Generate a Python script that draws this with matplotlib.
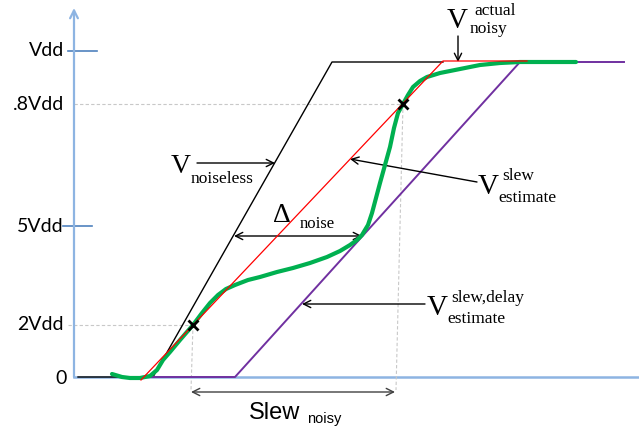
import matplotlib.pyplot as plt

# time axis runs right from the origin, voltage axis up from the baseline
# (both in drawing units; the full swing is 315)
SWING = 315

# y-axis reference levels and their labels
level_vals = [0, 52, 151, 273, 326]
level_labels = ["0", "2Vdd", "5Vdd", ".8Vdd", "Vdd"]

# ideal ramp without noise
noiseless_t = [4, 79, 258, 369]
noiseless_v = [0, 0, SWING, SWING]

# straight-line slew estimate through the 20% / 80% crossings
slew_est_t = [67, 369, 453]
slew_est_v = [-3, 316, 316]

# slew + delay estimate, shifted so it touches the noisy waveform
delay_est_t = [73, 161, 446, 550]
delay_est_v = [0, 0, SWING, SWING]

# actual noisy waveform
noisy_t = [38, 48, 56, 66, 76, 83, 89, 96, 106, 119, 128, 136, 144, 152, 161,
           174, 186, 203, 219, 236, 253, 266, 276, 283, 288, 294, 298, 302,
           306, 311, 316, 320, 324, 329, 334, 339, 346, 353, 366, 376, 386,
           396, 406, 426, 446, 502]
noisy_v = [3, 0, -1, -1, 1, 7, 17, 25, 37, 52, 64, 74, 82, 88, 92,
           97, 100, 105, 109, 114, 120, 126, 132, 137, 142, 152, 164, 179,
           194, 212, 230, 249, 264, 273, 282, 290, 296, 300, 304, 306, 308,
           310, 312, 314, 315, 315]

# 20% and 80% crossing points
cross_t = [119, 329]
cross_v = [52, 273]

AXIS_BLUE = "#8DB4E2"
TICK_BLUE = "#4F81BD"
GRID_GREY = "#C8C8C8"
SERIF = "Liberation Serif"

fig = plt.figure(figsize=(6.39, 4.33), dpi=100)
ax = fig.add_axes([0, 0, 1, 1])
ax.set_xlim(-74, 565)
ax.set_ylim(-56, 377)
ax.axis("off")

# axes
ax.plot([0, 565], [0, 0], color=AXIS_BLUE, lw=1.8, zorder=1)
ax.annotate("", xy=(0, 369), xytext=(0, 0),
            arrowprops=dict(arrowstyle="->", color=AXIS_BLUE, lw=1.6,
                            shrinkA=0, shrinkB=0, mutation_scale=14))
ax.plot([-6, 23], [326, 326], color=TICK_BLUE, lw=1.2)
ax.plot([-11, 18], [151, 151], color=TICK_BLUE, lw=1.2)
for val, lab in zip(level_vals, level_labels):
    x = -7 if lab == "0" else -10
    ax.text(x, val - (2 if lab == "0" else 0), lab, ha="right", va="center",
            fontsize=14, family="Lato", color="black")

# dashed guides at the crossings
ax.plot([-6, cross_t[0]], [cross_v[0]] * 2, color=GRID_GREY, lw=0.8,
        ls=(0, (3, 2)))
ax.plot([0, cross_t[1]], [cross_v[1]] * 2, color=GRID_GREY, lw=0.8,
        ls=(0, (3, 2)))
ax.plot([cross_t[0], 117], [cross_v[0], -13], color=GRID_GREY, lw=0.8,
        ls=(0, (3, 2)))
ax.plot([cross_t[1], 322], [cross_v[1], -13], color=GRID_GREY, lw=0.8,
        ls=(0, (3, 2)))

# waveforms
ax.plot(noiseless_t, noiseless_v, color="black", lw=1.0, zorder=3)
ax.plot(delay_est_t, delay_est_v, color="#7030A0", lw=1.4, zorder=3)
ax.plot(noisy_t, noisy_v, color="#00B050", lw=3.0, zorder=4,
        solid_joinstyle="round", solid_capstyle="round")
ax.plot(slew_est_t, slew_est_v, color="#FF0000", lw=0.9, zorder=5)
ax.plot(cross_t, cross_v, ls="none", marker="x", color="black", ms=7,
        mew=2, zorder=6)

arrow = dict(arrowstyle="->", color="black", lw=1.0, shrinkA=0, shrinkB=0,
             mutation_scale=13)
double = dict(arrowstyle="<->", color="black", lw=1.0, shrinkA=0, shrinkB=0,
              mutation_scale=13)

# V actual noisy
ax.annotate("", xy=(384, 315), xytext=(384, 341), arrowprops=arrow)
ax.text(373, 349, "V", fontsize=21, family=SERIF)
ax.text(400, 362, "actual", fontsize=12.5, family=SERIF)
ax.text(396, 344, "noisy", fontsize=12.5, family=SERIF)

# V noiseless
ax.annotate("", xy=(201, 214), xytext=(123, 214), arrowprops=arrow)
ax.text(97, 204, "V", fontsize=20, family=SERIF)
ax.text(117, 194, "noiseless", fontsize=12.5, family=SERIF)

# delta noise
ax.annotate("", xy=(288, 141), xytext=(160, 141), arrowprops=double)
ax.text(199, 155, "\u0394", fontsize=20, family=SERIF)
ax.text(226, 149, "noise", fontsize=12, family=SERIF)

# V slew estimate
ax.annotate("", xy=(276, 218), xytext=(403, 195), arrowprops=arrow)
ax.text(404, 183, "V", fontsize=21, family=SERIF)
ax.text(428, 197, "slew", fontsize=12.5, family=SERIF)
ax.text(424, 175, "estimate", fontsize=12.5, family=SERIF)

# V slew,delay estimate
ax.annotate("", xy=(228, 73), xytext=(351, 73), arrowprops=arrow)
ax.text(353, 62, "V", fontsize=21, family=SERIF)
ax.text(377, 75, "slew,delay", fontsize=12.5, family=SERIF)
ax.text(373, 54, "estimate", fontsize=12.5, family=SERIF)

# noisy slew span
ax.annotate("", xy=(321, -15), xytext=(117, -15),
            arrowprops=dict(double, color="#404040"))
ax.text(175, -42, "Slew", fontsize=17, family="Liberation Sans")
ax.text(233, -46, "noisy", fontsize=10.5, family="Liberation Sans")

fig.savefig("out.png", dpi=100)
